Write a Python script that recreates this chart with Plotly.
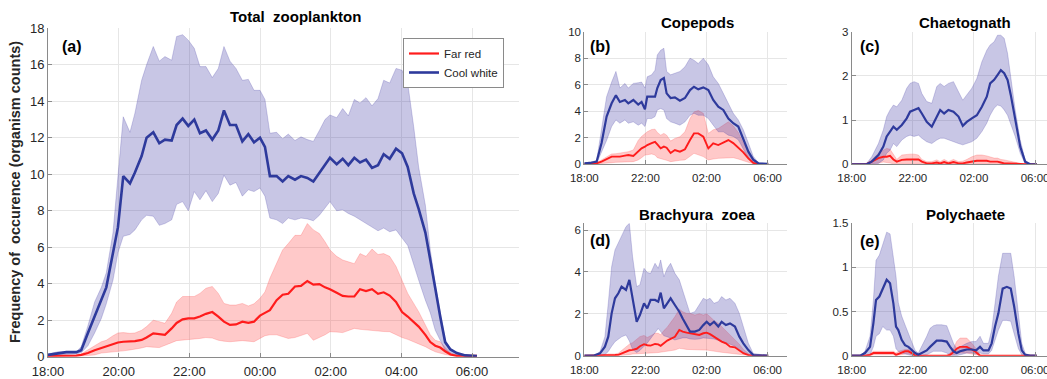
import plotly.graph_objects as go

# ---------------- DATA (hours after 18:00) ----------------
tick_main = ["18:00", "20:00", "22:00", "00:00", "02:00", "04:00", "06:00"]
tick_main_pos = [0, 2, 4, 6, 8, 10, 12]
tick_small = ["18:00", "22:00", "02:00", "06:00"]
tick_small_pos = [0, 4, 8, 12]

series_names = ["Far red", "Cool white"]

# (a) Total zooplankton
t_a = [0.00, 0.28, 0.52, 0.80, 0.94, 1.13, 1.32, 1.51, 1.65, 1.84, 1.98, 2.13, 2.32, 2.46, 2.65,
       2.79, 2.98, 3.15, 3.31, 3.50, 3.64, 3.81, 3.97, 4.14, 4.30, 4.47, 4.65, 4.82, 4.98, 5.15,
       5.32, 5.50, 5.67, 5.83, 6.00, 6.14, 6.28, 6.47, 6.64, 6.80, 6.99, 7.16, 7.34, 7.51, 7.68,
       7.84, 7.98, 8.17, 8.34, 8.50, 8.67, 8.83, 9.00, 9.17, 9.34, 9.50, 9.67, 9.85, 10.02, 10.18,
       10.35, 10.49, 10.68, 10.82, 10.96, 11.10, 11.24, 11.39, 11.57, 11.81, 12.14]
cw_a_mean = [0.1, 0.2, 0.25, 0.25, 0.35, 1.3, 2.2, 3.1, 3.8, 5.7, 7.1, 9.9, 9.5, 10.1, 11.0,
             12.0, 12.3, 11.7, 11.9, 11.85, 12.7, 13.05, 12.65, 13.0, 12.25, 12.4, 11.9, 12.4, 13.5, 12.7,
             12.7, 11.8, 12.2, 11.75, 12.0, 11.5, 9.9, 9.9, 9.6, 9.9, 9.7, 9.9, 9.8, 9.6, 10.05,
             10.5, 10.9, 10.55, 10.85, 10.5, 10.9, 10.65, 10.8, 10.35, 10.5, 11.1, 10.85, 11.4, 11.15, 10.4,
             8.95, 8.1, 6.8, 5.3, 3.65, 2.2, 0.8, 0.4, 0.2, 0.07, 0.04]
cw_a_hi = [0.15, 0.27, 0.27, 0.27, 0.55, 1.7, 3.0, 3.8, 4.6, 6.8, 9.9, 13.15, 12.3, 13.35, 15.15,
           16.0, 17.0, 16.2, 16.45, 16.25, 17.55, 17.65, 17.35, 16.9, 15.9, 15.9, 15.3, 15.8, 17.0, 16.2,
           15.8, 15.15, 15.2, 14.6, 14.6, 14.1, 12.25, 12.3, 11.95, 12.2, 11.85, 12.05, 11.9, 11.8, 12.4,
           13.0, 13.25, 13.1, 13.6, 13.2, 14.1, 13.9, 14.2, 13.75, 14.15, 15.15, 15.0, 15.8, 15.7, 15.0,
           12.6, 10.4, 8.3, 5.85, 4.0, 2.55, 0.9, 0.45, 0.22, 0.1, 0.04]
cw_a_lo = [0.07, 0.1, 0.12, 0.15, 0.22, 0.6, 1.3, 2.1, 2.9, 4.2, 5.7, 6.6, 6.7, 6.95, 7.5,
           7.75, 7.7, 7.2, 7.3, 7.5, 8.35, 8.5, 8.0, 9.05, 8.6, 9.1, 8.5, 8.95, 9.95, 9.4,
           9.55, 8.8, 9.15, 9.05, 9.25, 8.8, 7.6, 7.5, 7.3, 7.6, 7.5, 7.6, 7.55, 7.45, 7.75,
           8.15, 8.5, 8.0, 8.05, 7.85, 7.7, 7.5, 7.3, 7.1, 6.9, 7.05, 6.85, 6.95, 6.5, 6.1,
           5.1, 4.2, 3.1, 2.4, 1.45, 0.9, 0.35, 0.2, 0.1, 0.05, 0.04]
fr_a_mean = [0.04, 0.04, 0.04, 0.06, 0.1, 0.2, 0.35, 0.47, 0.55, 0.7, 0.78, 0.82, 0.82, 0.85, 0.92,
             1.05, 1.28, 1.22, 1.2, 1.55, 1.85, 2.05, 2.1, 2.1, 2.2, 2.35, 2.45, 2.2, 1.92, 1.74,
             1.77, 1.92, 1.86, 1.92, 2.25, 2.4, 2.55, 3.1, 3.4, 3.45, 3.85, 3.88, 4.15, 3.95, 3.98,
             3.8, 3.7, 3.5, 3.33, 3.3, 3.3, 3.7, 3.6, 3.7, 3.45, 3.53, 3.35, 3.0, 2.45, 2.2,
             1.92, 1.65, 1.2, 0.8, 0.6, 0.5, 0.3, 0.12, 0.05, 0.04, 0.04]
fr_a_hi = [0.04, 0.04, 0.05, 0.08, 0.15, 0.4, 0.6, 0.82, 0.9, 1.15, 1.3, 1.32, 1.28, 1.3, 1.45,
           1.65, 2.0, 1.92, 1.83, 2.38, 3.0, 3.3, 3.3, 3.3, 3.47, 3.75, 3.85, 3.47, 2.92, 2.83,
           2.83, 2.92, 2.78, 2.9, 3.2, 3.55, 4.3, 5.1, 5.85, 6.2, 6.65, 6.65, 7.3, 6.95, 6.75,
           6.3, 5.85, 5.5, 5.3, 5.2, 5.1, 5.65, 5.5, 5.9, 5.6, 5.65, 5.5, 4.95, 4.2, 3.47,
           2.92, 2.47, 1.74, 1.2, 0.9, 0.82, 0.5, 0.2, 0.07, 0.04, 0.04]
fr_a_lo = [0.04, 0.04, 0.04, 0.04, 0.04, 0.06, 0.1, 0.2, 0.22, 0.27, 0.3, 0.32, 0.37, 0.4, 0.48,
           0.55, 0.52, 0.5, 0.6, 0.77, 0.88, 0.92, 0.95, 0.97, 1.0, 1.05, 1.02, 0.9, 0.85, 0.82,
           0.85, 0.88, 0.85, 0.82, 1.0, 1.15, 1.2, 1.2, 1.1, 1.0, 1.05, 1.15, 1.28, 0.9, 1.05,
           1.2, 1.37, 1.35, 1.32, 1.45, 1.55, 1.5, 1.46, 1.42, 1.4, 1.38, 1.37, 1.2, 1.05, 0.95,
           0.82, 0.7, 0.55, 0.4, 0.27, 0.2, 0.12, 0.07, 0.04, 0.04, 0.04]

# (b) Copepods
t_b = [0, 0.37, 0.81, 1.13, 1.46, 1.79, 2.07, 2.33, 2.66, 2.88, 3.21, 3.53, 3.75, 3.97, 4.12,
       4.41, 4.63, 4.78, 5.00, 5.21, 5.39, 5.65, 5.93, 6.26, 6.59, 6.92, 7.18, 7.46, 7.79, 8.12,
       8.44, 8.77, 9.10, 9.43, 9.75, 10.08, 10.41, 10.74, 11.06, 11.39, 12.04]
cw_b_mean = [0.08, 0.1, 0.2, 1.6, 3.6, 4.6, 5.2, 4.7, 4.85, 4.6, 4.85, 4.5, 4.7, 4.15, 5.1,
             5.1, 5.1, 5.75, 6.35, 6.5, 5.35, 5.0, 5.05, 4.8, 5.0, 5.6, 5.85, 5.65, 5.8, 5.6,
             4.85, 4.35, 4.1, 3.45, 3.1, 2.85, 1.85, 0.95, 0.35, 0.08, 0.03]
cw_b_hi = [0.12, 0.15, 0.28, 2.6, 5.1, 6.2, 7.0, 5.75, 6.1, 5.75, 6.1, 6.15, 6.2, 5.75, 6.6,
           6.75, 7.1, 8.25, 8.6, 8.75, 7.0, 6.75, 6.85, 7.0, 7.35, 8.0, 7.85, 7.6, 8.0, 7.5,
           6.6, 6.1, 5.35, 4.6, 3.85, 3.35, 2.6, 1.6, 0.6, 0.12, 0.03]
cw_b_lo = [0.03, 0.05, 0.08, 0.95, 1.8, 2.85, 3.35, 3.1, 3.35, 3.1, 3.2, 2.95, 3.1, 2.85, 3.45,
           3.45, 3.6, 4.1, 4.2, 4.1, 3.45, 3.2, 3.1, 2.95, 3.2, 3.7, 3.85, 3.7, 3.7, 3.45,
           2.95, 2.45, 2.45, 2.2, 2.1, 1.85, 1.2, 0.45, 0.12, 0.03, 0.03]
fr_b_mean = [0, 0.04, 0.08, 0.2, 0.38, 0.58, 0.58, 0.58, 0.65, 0.7, 0.63, 1.0, 1.2, 1.33, 1.45,
             1.6, 1.7, 1.5, 1.2, 1.33, 1.25, 0.85, 1.08, 0.95, 1.13, 1.83, 2.33, 2.33, 2.08, 1.2,
             1.58, 1.45, 1.63, 1.83, 1.6, 1.25, 0.9, 0.45, 0.1, 0.02, 0]
fr_b_hi = [0.03, 0.06, 0.12, 0.33, 0.58, 0.78, 0.8, 0.83, 0.9, 0.95, 1.08, 1.8, 2.1, 2.33, 2.45,
           2.62, 2.65, 2.4, 2.2, 2.33, 2.2, 1.75, 1.95, 2.08, 2.45, 3.45, 3.95, 4.05, 3.85, 2.33,
           2.6, 2.7, 2.95, 3.2, 2.9, 2.4, 1.6, 0.9, 0.3, 0.05, 0]
fr_b_lo = [0, 0, 0.02, 0.05, 0.08, 0.12, 0.15, 0.2, 0.2, 0.2, 0.2, 0.33, 0.5, 0.7, 0.72,
           0.78, 0.7, 0.5, 0.45, 0.35, 0.3, 0.2, 0.25, 0.3, 0.33, 0.6, 0.83, 0.7, 0.58, 0.33,
           0.4, 0.45, 0.45, 0.5, 0.5, 0.4, 0.3, 0.15, 0.05, 0, 0]

# (c) Chaetognath
t_c = [0, 0.98, 1.31, 1.75, 2.07, 2.29, 2.51, 2.73, 2.95, 3.28, 3.60, 3.82, 4.08, 4.37, 4.59,
       4.91, 5.24, 5.57, 5.79, 6.05, 6.33, 6.66, 6.99, 7.27, 7.53, 7.86, 8.19, 8.52, 8.84, 9.06,
       9.32, 9.54, 9.76, 9.98, 10.20, 10.41, 10.70, 11.03, 11.35, 11.68, 12.12]
cw_c_mean = [0, 0, 0.06, 0.21, 0.4, 0.63, 0.74, 0.85, 0.78, 0.89, 1.04, 1.19, 1.23, 1.27, 1.15,
             0.96, 0.85, 1.08, 1.23, 1.15, 1.23, 1.19, 1.08, 0.87, 0.96, 1.04, 1.11, 1.3, 1.53, 1.83,
             1.91, 2.02, 2.13, 2.06, 1.91, 1.57, 1.0, 0.4, 0.06, 0, 0]
cw_c_hi = [0, 0.02, 0.17, 0.47, 0.78, 1.08, 1.23, 1.34, 1.3, 1.45, 1.72, 1.83, 1.87, 1.83, 1.6,
           1.42, 1.38, 1.76, 1.83, 1.76, 1.83, 1.87, 1.64, 1.45, 1.57, 1.72, 1.94, 2.32, 2.58, 2.7,
           2.77, 2.92, 2.92, 2.85, 2.51, 1.98, 1.23, 0.55, 0.1, 0, 0]
cw_c_lo = [0, 0, 0.01, 0.02, 0.1, 0.25, 0.32, 0.47, 0.4, 0.55, 0.63, 0.66, 0.63, 0.66, 0.59,
           0.51, 0.47, 0.55, 0.59, 0.59, 0.55, 0.51, 0.47, 0.44, 0.47, 0.51, 0.59, 0.74, 0.93, 1.11,
           1.27, 1.34, 1.32, 1.23, 1.11, 0.93, 0.63, 0.25, 0.02, 0, 0]
fr_c_mean = [0, 0.01, 0.06, 0.14, 0.17, 0.17, 0.19, 0.11, 0.06, 0.1, 0.11, 0.11, 0.11, 0.11, 0.06,
             0.02, 0.02, 0.04, 0.02, 0.05, 0.02, 0.05, 0.02, 0.02, 0.04, 0.06, 0.08, 0.08, 0.08, 0.06,
             0.06, 0.06, 0.04, 0.02, 0.02, 0.02, 0.02, 0.01, 0, 0, 0]
fr_c_hi = [0, 0.02, 0.1, 0.25, 0.32, 0.36, 0.34, 0.21, 0.11, 0.21, 0.23, 0.23, 0.23, 0.21, 0.11,
           0.06, 0.06, 0.1, 0.06, 0.11, 0.06, 0.11, 0.06, 0.07, 0.11, 0.17, 0.21, 0.21, 0.19, 0.16,
           0.14, 0.14, 0.11, 0.1, 0.08, 0.06, 0.04, 0.02, 0, 0, 0]
fr_c_lo = [0, 0, 0.01, 0.03, 0.05, 0.04, 0.03, 0.01, 0, 0.01, 0.01, 0.01, 0.01, 0.01, 0,
           0, 0, 0, 0, 0, 0, 0, 0, 0, 0, 0, 0.01, 0.01, 0.01, 0,
           0, 0, 0, 0, 0, 0, 0, 0, 0, 0, 0]

# (d) Brachyura zoea
t_d = [0, 0.59, 1.03, 1.35, 1.57, 1.79, 2.01, 2.23, 2.44, 2.73, 2.95, 3.16, 3.43, 3.64, 3.91,
       4.12, 4.34, 4.63, 4.84, 5.00, 5.21, 5.43, 5.65, 5.93, 6.22, 6.44, 6.70, 6.92, 7.24, 7.53,
       7.79, 8.01, 8.23, 8.49, 8.77, 8.99, 9.27, 9.54, 9.86, 10.15, 10.41, 10.74, 11.06, 12.04]
cw_d_mean = [0, 0, 0.11, 0.43, 0.91, 2.02, 2.74, 2.98, 3.3, 3.14, 3.62, 2.82, 1.62, 1.94, 2.5,
             2.26, 2.66, 2.66, 2.58, 3.01, 2.26, 2.5, 2.74, 2.42, 2.1, 1.78, 1.46, 1.15, 1.15, 1.23,
             1.46, 1.62, 1.46, 1.62, 1.39, 1.62, 1.46, 1.54, 1.39, 0.91, 0.59, 0.27, 0.03, 0]
cw_d_hi = [0, 0, 0.19, 0.91, 2.5, 4.25, 5.05, 5.37, 5.68, 6.16, 6.32, 4.73, 3.3, 3.38, 4.17,
           3.97, 3.93, 4.41, 4.17, 4.57, 3.77, 4.17, 4.41, 3.93, 3.62, 3.14, 2.5, 2.02, 2.1, 2.42,
           2.74, 2.66, 2.74, 2.5, 2.58, 2.82, 2.66, 2.74, 2.5, 2.02, 1.39, 0.59, 0.11, 0]
cw_d_lo = [0, 0, 0, 0.05, 0.2, 0.45, 0.67, 0.8, 0.9, 0.99, 0.7, 0.3, 0.15, 0.25, 0.45,
           0.6, 0.8, 1.1, 1.3, 1.15, 0.95, 0.9, 0.85, 0.75, 0.8, 0.85, 0.85, 0.8, 0.78, 0.8,
           0.85, 0.85, 0.82, 0.8, 0.75, 0.7, 0.62, 0.55, 0.45, 0.3, 0.15, 0.05, 0, 0]
fr_d_mean = [0, 0, 0, 0.02, 0.03, 0.03, 0.03, 0.04, 0.1, 0.2, 0.26, 0.28, 0.33, 0.45, 0.55,
             0.5, 0.48, 0.56, 0.54, 0.47, 0.6, 0.72, 0.8, 0.9, 1.23, 1.15, 1.1, 1.07, 1.03, 0.99,
             1.07, 1.1, 1.03, 0.9, 0.8, 0.67, 0.59, 0.43, 0.4, 0.25, 0.12, 0.03, 0, 0]
fr_d_hi = [0, 0, 0, 0.04, 0.08, 0.08, 0.08, 0.12, 0.25, 0.45, 0.55, 0.62, 0.78, 0.91, 0.97,
           0.87, 0.95, 1.07, 1.07, 1.0, 1.2, 1.36, 1.58, 1.86, 2.22, 2.1, 2.02, 2.02, 1.94, 2.0,
           1.94, 2.0, 1.86, 1.68, 1.55, 1.39, 1.23, 0.99, 0.8, 0.55, 0.3, 0.1, 0, 0]
fr_d_lo = [0, 0, 0, 0, 0, 0, 0, 0, 0.02, 0.03, 0.05, 0.08, 0.1, 0.11, 0.12,
           0.13, 0.13, 0.14, 0.15, 0.17, 0.19, 0.21, 0.23, 0.27, 0.35, 0.33, 0.3, 0.28, 0.27, 0.27,
           0.27, 0.27, 0.25, 0.22, 0.19, 0.16, 0.14, 0.12, 0.1, 0.07, 0.04, 0.02, 0, 0]

# (e) Polychaete
t_e = [0, 0.55, 0.87, 1.20, 1.42, 1.59, 1.81, 2.03, 2.29, 2.51, 2.73, 2.90, 3.05, 3.27, 3.49,
       3.71, 3.93, 4.15, 4.36, 4.58, 4.91, 5.13, 5.35, 5.56, 5.89, 6.22, 6.44, 6.66, 6.87, 7.09,
       7.31, 7.53, 7.86, 8.14, 8.40, 8.62, 8.95, 9.16, 9.38, 9.60, 9.88, 10.15, 10.41, 10.63, 10.91,
       11.13, 11.35, 11.68, 12.11]
cw_e_mean = [0, 0, 0.03, 0.1, 0.37, 0.63, 0.67, 0.76, 0.86, 0.82, 0.59, 0.33, 0.29, 0.18, 0.12,
             0.1, 0.06, 0.03, 0.01, 0.03, 0.06, 0.1, 0.14, 0.17, 0.17, 0.16, 0.1, 0.05, 0.03, 0.05,
             0.06, 0.07, 0.07, 0.06, 0.1, 0.06, 0.06, 0.14, 0.33, 0.48, 0.76, 0.78, 0.76, 0.56, 0.25,
             0.06, 0.01, 0, 0]
cw_e_hi = [0, 0, 0.05, 0.22, 0.63, 1.08, 1.14, 1.25, 1.4, 1.38, 1.12, 0.9, 0.6, 0.45, 0.35,
           0.25, 0.14, 0.06, 0.03, 0.1, 0.22, 0.31, 0.34, 0.35, 0.35, 0.34, 0.25, 0.14, 0.08, 0.1,
           0.12, 0.14, 0.16, 0.16, 0.22, 0.14, 0.14, 0.29, 0.59, 0.9, 1.16, 1.16, 1.16, 0.9, 0.44,
           0.14, 0.03, 0, 0]
cw_e_lo = [0, 0, 0, 0.01, 0.1, 0.22, 0.25, 0.33, 0.29, 0.29, 0.22, 0.08, 0.05, 0.03, 0.02,
           0.01, 0, 0, 0, 0, 0.01, 0.03, 0.05, 0.05, 0.05, 0.03, 0.01, 0, 0, 0.01,
           0.02, 0.03, 0.03, 0.02, 0.03, 0.02, 0.02, 0.06, 0.18, 0.29, 0.4, 0.4, 0.39, 0.25, 0.08,
           0.01, 0, 0, 0]
fr_e_mean = [0, 0, 0, 0.01, 0.03, 0.03, 0.03, 0.03, 0.03, 0.03, 0.03, 0.01, 0.02, 0.04, 0.05,
             0.05, 0.03, 0, 0, 0, 0, 0, 0, 0, 0, 0, 0.01, 0.04, 0.08, 0.1,
             0.1, 0.1, 0.07, 0.04, 0, 0, 0, 0, 0, 0, 0, 0, 0, 0, 0,
             0, 0, 0, 0]
fr_e_hi = [0, 0, 0, 0.02, 0.05, 0.05, 0.05, 0.05, 0.05, 0.05, 0.05, 0.03, 0.05, 0.06, 0.07,
           0.07, 0.05, 0.01, 0, 0, 0, 0, 0, 0, 0, 0, 0.03, 0.08, 0.16, 0.2,
           0.2, 0.2, 0.14, 0.08, 0.01, 0, 0, 0, 0, 0, 0, 0, 0, 0, 0,
           0, 0, 0, 0]
fr_e_lo = [0, 0, 0, 0, 0.01, 0.01, 0.01, 0.01, 0.01, 0.01, 0.01, 0, 0, 0.01, 0.02,
           0.02, 0.01, 0, 0, 0, 0, 0, 0, 0, 0, 0, 0, 0.01, 0.02, 0.03,
           0.03, 0.03, 0.02, 0.01, 0, 0, 0, 0, 0, 0, 0, 0, 0, 0, 0,
           0, 0, 0, 0]

# ---------------- STYLE ----------------
W, H = 1047, 379
FONT = "Liberation Sans, Arial, Helvetica, sans-serif"
BLUE = "rgb(46,58,156)"
RED = "rgb(255,28,28)"
BLUE_FILL = "rgba(72,65,170,0.30)"
RED_FILL = "rgba(255,75,75,0.30)"
BLUE_EDGE = "rgba(72,65,170,0.35)"
RED_EDGE = "rgba(255,75,75,0.35)"
AXC = "#8a8a8a"
GRID = "#e6e6e6"
TXT = "#262626"

def px_x(p):
    return p / W

def px_y(p):
    return 1 - p / H

panels = [
    ("a", t_a, (cw_a_mean, cw_a_lo, cw_a_hi), (fr_a_mean, fr_a_lo, fr_a_hi),
     (48, 519), (356.7, 28.3), [0, 13.33], [0, 18], [0, 2, 4, 6, 8, 10, 12, 14, 16, 18], True),
    ("b", t_b, (cw_b_mean, cw_b_lo, cw_b_hi), (fr_b_mean, fr_b_lo, fr_b_hi),
     (584.3, 786.7), (164.3, 31.7), [0, 13.25], [0, 10], [0, 2, 4, 6, 8, 10], False),
    ("c", t_c, (cw_c_mean, cw_c_lo, cw_c_hi), (fr_c_mean, fr_c_lo, fr_c_hi),
     (851.7, 1047), (164.3, 31.7), [0, (1047 - 851.7) / 15.28], [0, 3], [0, 1, 2, 3], False),
    ("d", t_d, (cw_d_mean, cw_d_lo, cw_d_hi), (fr_d_mean, fr_d_lo, fr_d_hi),
     (584.3, 786.7), (355.7, 223.3), [0, 13.25], [0, 6.32], [0, 2, 4, 6], False),
    ("e", t_e, (cw_e_mean, cw_e_lo, cw_e_hi), (fr_e_mean, fr_e_lo, fr_e_hi),
     (851.7, 1047), (355.7, 223.3), [0, (1047 - 851.7) / 15.28], [0, 1.5], [0, 0.5, 1, 1.5], False),
]

titles = [
    ("Total  zooplankton", 295, 17),
    ("Copepods", 697, 22),
    ("Chaetognath", 965, 22),
    ("Brachyura  zoea", 697, 214),
    ("Polychaete", 965, 214),
]
labels = [("(a)", 60, 46), ("(b)", 588, 47), ("(c)", 858, 47), ("(d)", 588, 240), ("(e)", 858, 241)]

fig = go.Figure()
layout = dict(width=W, height=H, margin=dict(l=0, r=0, t=0, b=0),
              paper_bgcolor="white", plot_bgcolor="white",
              font=dict(family=FONT, color=TXT), showlegend=True)

for i, (key, t, cw, fr, xpx, ypx, xr, yr, yt, main) in enumerate(panels):
    n = "" if i == 0 else str(i + 1)
    xa, ya = "x" + n, "y" + n
    lw_b = 2.6 if main else 2.2
    lw_r = 2.2 if main else 1.9
    tsz = 13 if main else 11.5
    for (mean, lo, hi), fill, edge in [(fr, RED_FILL, RED_EDGE), (cw, BLUE_FILL, BLUE_EDGE)]:
        fig.add_trace(go.Scatter(x=list(t) + list(t)[::-1], y=list(hi) + list(lo)[::-1],
                                 fill="toself", fillcolor=fill, mode="lines",
                                 line=dict(color=edge, width=0.7), hoverinfo="skip",
                                 showlegend=False, xaxis=xa, yaxis=ya))
    fig.add_trace(go.Scatter(x=t, y=fr[0], mode="lines", line=dict(color=RED, width=lw_r),
                             name=series_names[0], showlegend=main, xaxis=xa, yaxis=ya))
    fig.add_trace(go.Scatter(x=t, y=cw[0], mode="lines", line=dict(color=BLUE, width=lw_b),
                             name=series_names[1], showlegend=main, xaxis=xa, yaxis=ya))

    tv = tick_main_pos if main else tick_small_pos
    tt = tick_main if main else tick_small
    layout["xaxis" + n] = dict(domain=[px_x(xpx[0]), min(1.0, px_x(xpx[1]))], range=xr,
                               anchor=ya, tickmode="array", tickvals=tv, ticktext=tt,
                               showgrid=True, gridcolor=GRID, gridwidth=1, zeroline=False,
                               showline=True, linecolor=AXC, linewidth=1,
                               ticks="inside", ticklen=4, tickcolor=AXC,
                               ticklabelstandoff=3, ticklabeloverflow="allow",
                               tickfont=dict(size=tsz, color=TXT), automargin=False)
    layout["yaxis" + n] = dict(domain=[px_y(ypx[0]), px_y(ypx[1])], range=yr,
                               anchor=xa, tickmode="array", tickvals=yt,
                               showgrid=True, gridcolor=GRID, gridwidth=1, zeroline=False,
                               showline=True, linecolor=AXC, linewidth=1,
                               ticks="inside", ticklen=4, tickcolor=AXC,
                               tickfont=dict(size=tsz, color=TXT), automargin=False)

annotations = []
for txt, x, y in titles:
    annotations.append(dict(text="<b>%s</b>" % txt, x=px_x(x), y=px_y(y), xref="paper", yref="paper",
                            xanchor="center", yanchor="middle", showarrow=False,
                            font=dict(size=15, color="black", family=FONT)))
for txt, x, y in labels:
    annotations.append(dict(text="<b>%s</b>" % txt, x=px_x(x), y=px_y(y), xref="paper", yref="paper",
                            xanchor="left", yanchor="middle", showarrow=False,
                            font=dict(size=16, color="black", family=FONT)))
annotations.append(dict(text="<b>Frequency of  occurence (organism counts)</b>",
                        x=px_x(15), y=px_y(192), xref="paper", yref="paper",
                        xanchor="center", yanchor="middle", textangle=-90, showarrow=False,
                        font=dict(size=14.5, color=TXT, family=FONT)))
layout["annotations"] = annotations
layout["legend"] = dict(x=px_x(403), y=px_y(38), xanchor="left", yanchor="top",
                        bgcolor="white", bordercolor="#8a8a8a", borderwidth=1,
                        font=dict(size=11.5, color=TXT, family=FONT), tracegroupgap=0,
                        itemwidth=30)

fig.update_layout(**layout)
fig.write_html("out.html")
